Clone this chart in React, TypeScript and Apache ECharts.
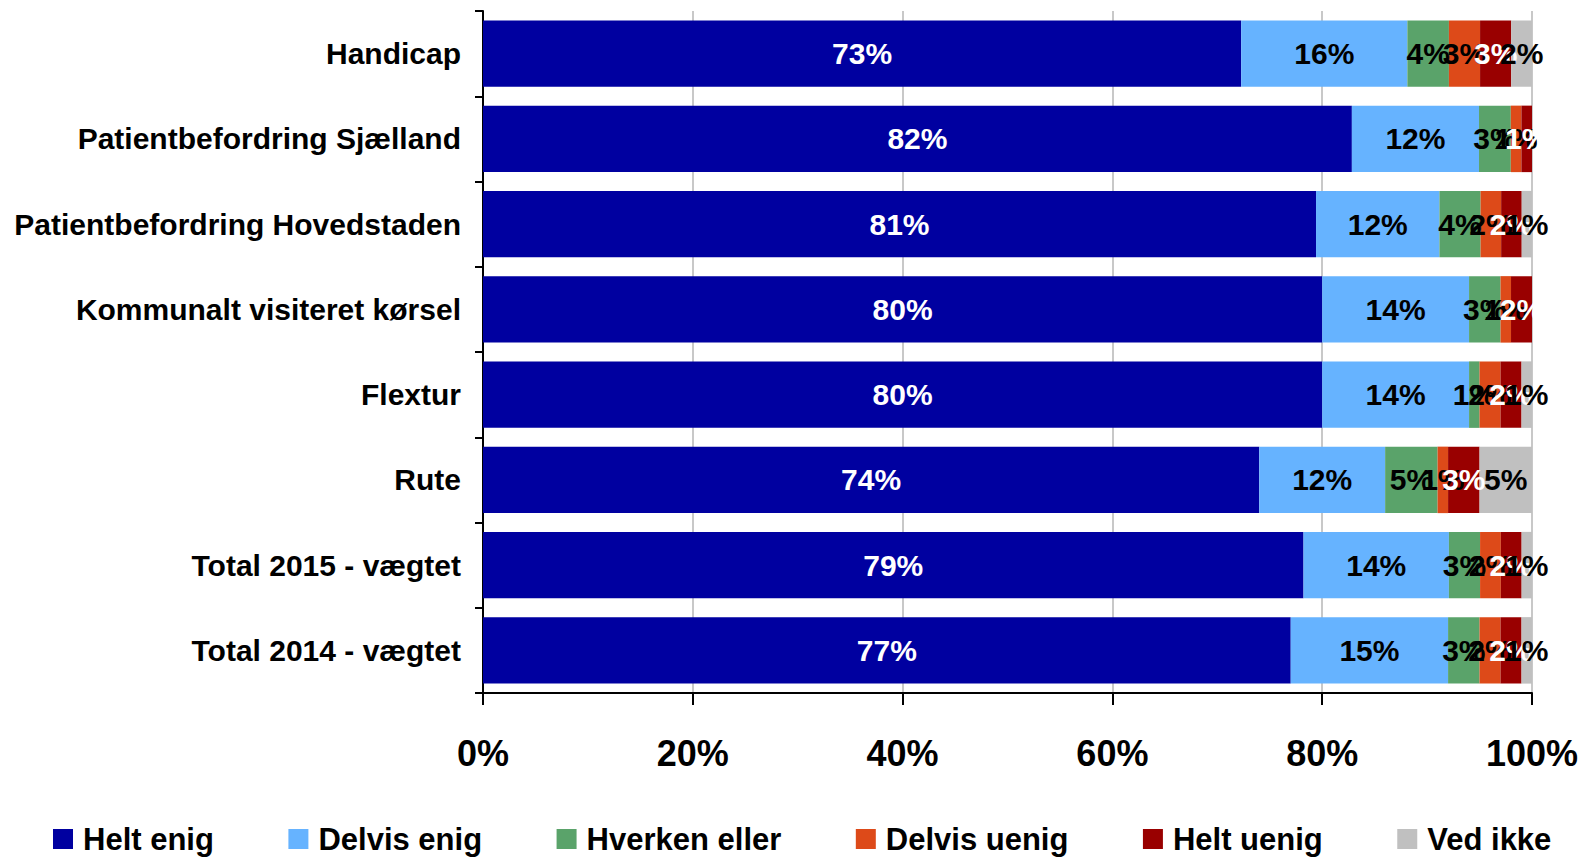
import React, { useEffect, useRef } from "react";
import * as echarts from "echarts";

const categories = [
  "Handicap",
  "Patientbefordring Sjælland",
  "Patientbefordring Hovedstaden",
  "Kommunalt visiteret kørsel",
  "Flextur",
  "Rute",
  "Total 2015 - vægtet",
  "Total 2014 - vægtet",
];
const heltEnig = [73, 82, 81, 80, 80, 74, 79, 77];
const delvisEnig = [16, 12, 12, 14, 14, 12, 14, 15];
const hverkenEller = [4, 3, 4, 3, 1, 5, 3, 3];
const delvisUenig = [3, 1, 2, 1, 2, 1, 2, 2];
const heltUenig = [3, 1, 2, 2, 2, 3, 2, 2];
const vedIkke = [2, 0, 1, 0, 1, 5, 1, 1];

const seriesNames = ["Helt enig", "Delvis enig", "Hverken eller", "Delvis uenig", "Helt uenig", "Ved ikke"];
const seriesValues = [heltEnig, delvisEnig, hverkenEller, delvisUenig, heltUenig, vedIkke];
const seriesColors = ["#0000A0", "#66B3FF", "#5AA36A", "#DD4A19", "#990000", "#C0C0C0"];
const labelColors = ["#ffffff", "#000000", "#000000", "#000000", "#ffffff", "#000000"];
const xTicks = [0, 20, 40, 60, 80, 100];

const FONT = "'Liberation Sans', Arial, sans-serif";

export default function App() {
  const ref = useRef<HTMLDivElement>(null);
  useEffect(() => {
    if (!ref.current) return;
    const chart = echarts.init(ref.current, null, { renderer: "svg" });
    const totals = categories.map((_, i) => seriesValues.reduce((s, arr) => s + arr[i], 0));
    const series = seriesNames.map((name, si) => ({
      name,
      type: "bar",
      stack: "total",
      barCategoryGap: "22%",
      itemStyle: { color: seriesColors[si] },
      label: {
        show: true,
        position: "inside",
        fontFamily: FONT,
        fontWeight: "bold",
        fontSize: 30,
        color: labelColors[si],
        textBorderWidth: 0,
        formatter: (p: any) => (p.data.raw > 0 ? p.data.raw + "%" : ""),
      },
      data: seriesValues[si].map((v, i) => ({ value: (v / totals[i]) * 100, raw: v })),
    }));
    chart.setOption({
      animation: false,
      textStyle: { fontFamily: FONT },
      grid: { left: 483, right: 53, top: 11, bottom: 165, containLabel: false },
      legend: {
        data: seriesNames,
        left: 48,
        top: 817,
        icon: "rect",
        itemWidth: 20,
        itemHeight: 20,
        itemGap: 74.5,
        textStyle: {
          fontFamily: FONT,
          fontWeight: "bold",
          fontSize: 31,
          color: "#000",
          lineHeight: 34,
          padding: [0, 0, 0, 5],
        },
      },
      xAxis: {
        type: "value",
        min: 0,
        max: 100,
        interval: 20,
        axisLine: { show: true, lineStyle: { color: "#000", width: 2 } },
        axisTick: { show: true, length: 12, lineStyle: { color: "#000", width: 2 } },
        splitLine: { show: true, lineStyle: { color: "#C8C8C8", width: 2 } },
        axisLabel: {
          margin: 42,
          fontFamily: FONT,
          fontWeight: "bold",
          fontSize: 36,
          color: "#000",
          formatter: (v: number) => (xTicks.includes(v) ? v + "%" : ""),
        },
      },
      yAxis: {
        type: "category",
        data: categories,
        inverse: true,
        axisLine: { show: true, lineStyle: { color: "#000", width: 2 } },
        axisTick: { show: true, length: 8, lineStyle: { color: "#000", width: 2 } },
        axisLabel: {
          margin: 22,
          fontFamily: FONT,
          fontWeight: "bold",
          fontSize: 30,
          color: "#000",
        },
      },
      series,
    });
    return () => chart.dispose();
  }, []);
  return (
    <div
      ref={ref}
      style={{ position: "fixed", left: 0, top: 0, width: 1585, height: 858, background: "#fff" }}
    />
  );
}
